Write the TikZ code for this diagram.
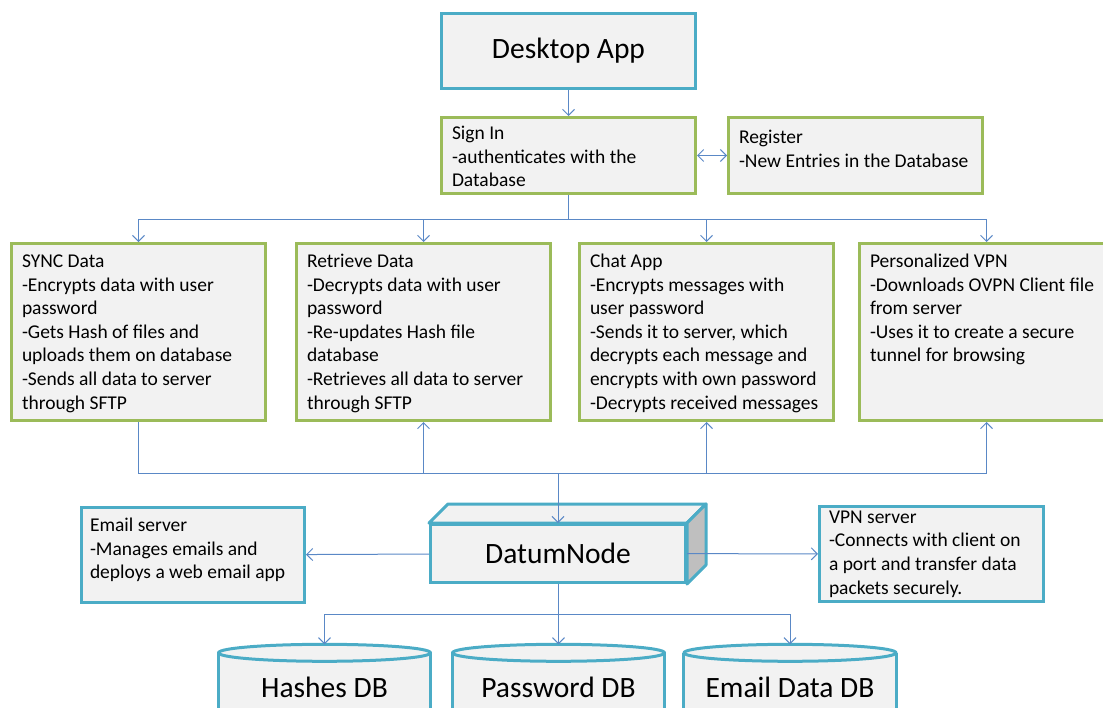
\documentclass[tikz,border=0pt]{standalone}
\usepackage{fontspec}
\setmainfont{Carlito}
\usetikzlibrary{arrows.meta,backgrounds}
\definecolor{boxfill}{HTML}{F2F2F2}
\definecolor{tealline}{HTML}{4BACC6}
\definecolor{greenline}{HTML}{9BBB59}
\definecolor{linkblue}{HTML}{5A88C6}
\definecolor{sidegray}{HTML}{BFBFBF}
\newcommand{\boxtext}[3]{\parbox[c][#2][t]{#1}{\raggedright\strut#3\strut}}

\begin{document}
\begin{tikzpicture}[x=1pt,y=-1pt,>={Straight Barb[length=6pt,width=12pt]},
   infobox/.style={draw=#1, fill=boxfill, line width=3pt, inner sep=0pt, font=\fontsize{19.5}{23.6}\selectfont},
   bigbox/.style={infobox=tealline, font=\fontsize{29.5}{35}\selectfont},
   task/.style={infobox=greenline, minimum width=254pt, minimum height=177pt},
   server/.style={infobox=tealline, minimum height=95pt},
   dbnode/.style={inner sep=0pt, minimum width=212pt, minimum height=85pt, font=\fontsize{29.5}{35}\selectfont},
   dbshape/.style={draw=tealline, fill=boxfill, line width=3pt, line join=round},
   link/.style={draw=linkblue, line width=1pt, ->}]
   \useasboundingbox (0,0) rectangle (1103,707);

   \node[bigbox, minimum width=254pt, minimum height=75pt] (desk) at (568.5,51) {Desktop App};
   \node[infobox=greenline, minimum width=254pt, minimum height=76pt] (signin) at (568.5,155.5) {\boxtext{233pt}{65pt}{Sign In\\-authenticates with the\\Database}};
   \node[infobox=greenline, minimum width=254pt, minimum height=76pt] (register) at (855.5,155.5) {\boxtext{233pt}{57pt}{Register\\-New Entries in the Database}};

   \node[task] (sync) at (138.5,332) {\boxtext{233pt}{162pt}{SYNC Data\\-Encrypts data with user\\password\\-Gets Hash of files and\\uploads them on database\\-Sends all data to server\\through SFTP}};
   \node[task] (retrieve) at (423.5,332) {\boxtext{233pt}{162pt}{Retrieve Data\\-Decrypts data with user\\password\\-Re-updates Hash file\\database\\-Retrieves all data to server\\through SFTP}};
   \node[task] (chat) at (706.5,332) {\boxtext{233pt}{162pt}{Chat App\\-Encrypts messages with\\user password\\-Sends it to server, which\\decrypts each message and\\encrypts with own password\\-Decrypts received messages}};
   \node[task] (pvpn) at (986.5,332) {\boxtext{233pt}{162pt}{Personalized VPN\\-Downloads OVPN Client file\\from server\\-Uses it to create a secure\\tunnel for browsing}};

   \node[server, minimum width=223pt] (email) at (193,555) {\boxtext{206pt}{80pt}{Email server\\-Manages emails and\\deploys a web email app}};
   \node[server, minimum width=224pt] (vpnsrv) at (931.5,554) {\boxtext{205pt}{94.5pt}{VPN server\\-Connects with client on\\a port and transfer data\\packets securely.}};

   % DatumNode block
   \node[bigbox, minimum width=255pt, minimum height=58pt] (datum) at (558,553.5) {DatumNode};
   \draw[dbshape] (datum.north west) -- ++(19,-19) -- ([shift={(19,-19)}]datum.north east) -- (datum.north east) -- cycle;
   \draw[dbshape, fill=sidegray] (datum.north east) -- ++(19,-19) -- ([shift={(19,-19)}]datum.south east) -- (datum.south east) -- cycle;

   \node[dbnode] (hashdb) at (324.5,687) {Hashes DB};
   \node[dbnode] (passdb) at (558.5,687) {Password DB};
   \node[dbnode] (maildb) at (790,687) {Email Data DB};
   \begin{scope}[on background layer]
      \foreach \db in {hashdb,passdb,maildb} {
         \draw[dbshape] ([yshift=-8.5pt]\db.north west) -- ([yshift=-30pt]\db.south west) -- ([yshift=-30pt]\db.south east) -- ([yshift=-8.5pt]\db.north east);
         \draw[dbshape] ([yshift=-8.5pt]\db.north) ellipse [x radius=106, y radius=8.5];
      }
   \end{scope}

   \coordinate (topbus) at (0,219);
   \coordinate (lowbus) at (0,473);
   \coordinate (dbbus) at (0,614);

   \draw[link] (desk) -- (signin);
   \draw[link, <->] (signin) -- (register);
   \foreach \b in {sync,retrieve,chat,pvpn}
      \draw[link] (signin.south) -- (signin.south |- topbus) -| (\b.north);
   \foreach \b in {retrieve,chat,pvpn}
      \draw[link] (sync.south) -- (sync.south |- lowbus) -| (\b.south);
   \draw[link] (sync.south) -- (sync.south |- lowbus) -| (datum.north);
   \draw[link] (datum) -- (email);
   \draw[link] (datum) -- (vpnsrv);
   \foreach \db in {hashdb,passdb,maildb}
      \draw[link] (datum.south) -- (datum.south |- dbbus) -| (\db.north);
\end{tikzpicture}
\end{document}
